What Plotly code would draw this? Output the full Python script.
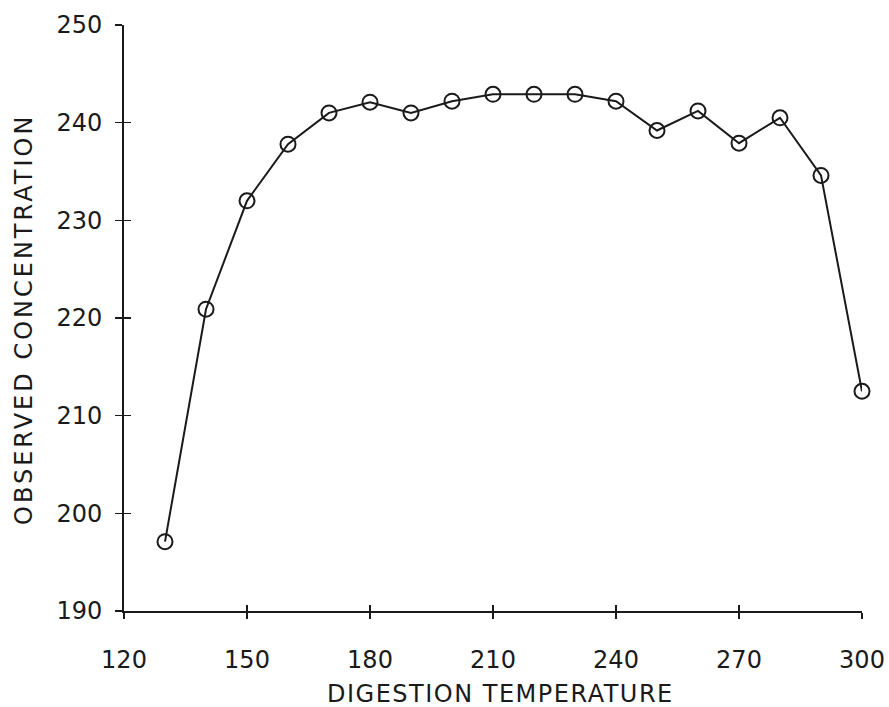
import plotly.graph_objects as go

temperature = [130, 140, 150, 160, 170, 180, 190, 200, 210, 220, 230, 240, 250, 260, 270, 280, 290, 300]
concentration = [197.1, 220.9, 232.0, 237.8, 241.0, 242.1, 241.0, 242.2, 242.9, 242.9,
                 242.9, 242.2, 239.2, 241.2, 237.9, 240.5, 234.6, 212.5]
x_ticks = [120, 150, 180, 210, 240, 270, 300]
y_ticks = [190, 200, 210, 220, 230, 240, 250]
x_title = "DIGESTION TEMPERATURE"
y_title = "OBSERVED CONCENTRATION"

INK = "#1a1a1a"
FONT = "DejaVu Sans"

fig = go.Figure()
fig.add_trace(go.Scatter(
    x=temperature, y=concentration, mode="lines+markers",
    line=dict(color=INK, width=2),
    marker=dict(symbol="circle-open", size=15, color=INK, line=dict(width=2, color=INK)),
    showlegend=False, hoverinfo="skip", cliponaxis=False,
))
# invisible trace to carry the inner-tick overlay axes
fig.add_trace(go.Scatter(
    x=temperature, y=concentration, mode="lines", line=dict(width=0),
    xaxis="x2", yaxis="y2", showlegend=False, hoverinfo="skip", opacity=0,
))

fig.update_layout(
    width=889, height=707,
    margin=dict(l=124, r=27, t=25, b=96),
    paper_bgcolor="white", plot_bgcolor="white",
    xaxis=dict(
        range=[120, 300], tickvals=x_ticks, ticktext=[str(v) for v in x_ticks],
        showgrid=False, zeroline=False, showline=True, linecolor=INK, linewidth=2,
        ticks="outside", ticklen=6, tickwidth=1.5, tickcolor=INK,
        tickfont=dict(family=FONT, size=24, color=INK),
        ticklabelstandoff=20, automargin=False,
    ),
    yaxis=dict(
        range=[190, 250], tickvals=y_ticks, ticktext=[str(v) for v in y_ticks],
        showgrid=False, zeroline=False, showline=True, linecolor=INK, linewidth=2,
        ticks="outside", ticklen=7, tickwidth=1.5, tickcolor=INK,
        tickfont=dict(family=FONT, size=24, color=INK),
        ticklabelstandoff=8, automargin=False,
    ),
    xaxis2=dict(
        range=[120, 300], tickvals=x_ticks, overlaying="x", side="bottom",
        showgrid=False, zeroline=False, showline=False, showticklabels=False,
        ticks="inside", ticklen=6, tickwidth=1.5, tickcolor=INK, automargin=False,
    ),
    yaxis2=dict(
        range=[190, 250], tickvals=y_ticks, overlaying="y", side="left",
        showgrid=False, zeroline=False, showline=False, showticklabels=False,
        ticks="inside", ticklen=7, tickwidth=1.5, tickcolor=INK, automargin=False,
    ),
    annotations=[
        dict(text=f'<span style="letter-spacing:1.5px">{x_title}</span>',
             xref="paper", yref="paper", x=0.5, y=0,
             xanchor="center", yanchor="middle", xshift=7, yshift=-83,
             showarrow=False, font=dict(family=FONT, size=24, color=INK)),
        dict(text=f'<span style="letter-spacing:3px">{y_title}</span>',
             xref="paper", yref="paper", x=0, y=0.5, textangle=-90,
             xanchor="center", yanchor="middle", xshift=-100, yshift=-2,
             showarrow=False, font=dict(family=FONT, size=24, color=INK)),
    ],
)

fig.write_html(
    "out.html",
    config={"displayModeBar": False, "staticPlot": True},
    post_script="document.body.style.margin='0';document.body.style.overflow='hidden';",
)
